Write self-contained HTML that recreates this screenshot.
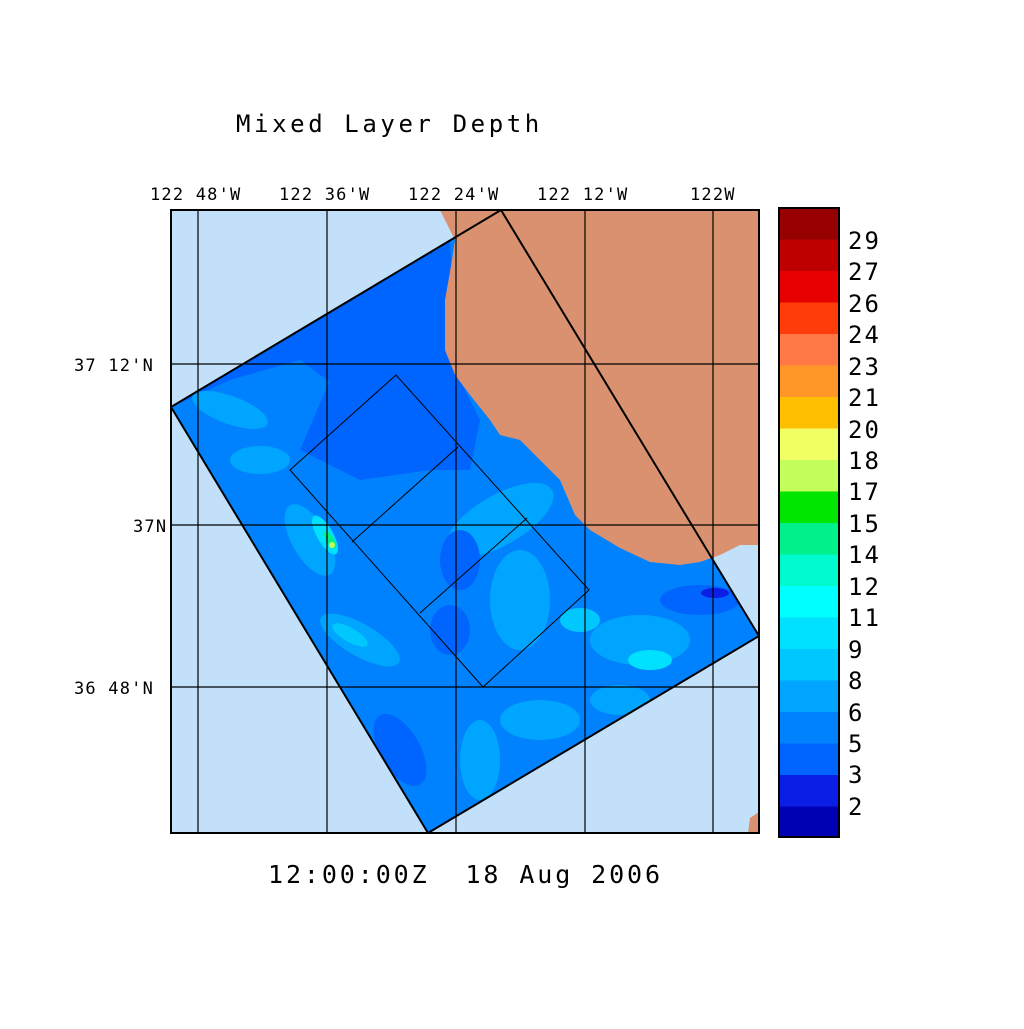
<!DOCTYPE html>
<html><head><style>
body{margin:0;background:#fff;width:1024px;height:1024px;overflow:hidden}
svg text{font-family:"DejaVu Sans Mono","Liberation Mono",monospace;fill:#000}
</style></head><body>
<svg width="1024" height="1024" viewBox="0 0 1024 1024" xmlns="http://www.w3.org/2000/svg">
<defs>
<clipPath id="dom"><polygon points="171,407 501,210 759,636 428,833"/></clipPath>
<clipPath id="map"><rect x="171" y="210" width="588" height="623"/></clipPath>
</defs>
<text x="236" y="132" font-size="24" letter-spacing="3.6" font-weight="300">Mixed Layer Depth</text>
<g clip-path="url(#map)">
<rect x="171" y="210" width="588" height="623" fill="#c2e0fa"/>
<g clip-path="url(#dom)">
<rect x="171" y="210" width="588" height="623" fill="#0082ff"/>
<polygon points="171,407 450,240 455,370 480,420 470,470 420,470 380,420 300,360 230,380" fill="#0064ff"/>
<polygon points="330,380 450,330 470,420 430,470 360,480 300,450" fill="#0064ff"/>
<ellipse cx="230" cy="410" rx="40" ry="14" fill="#00a5ff" transform="rotate(20 230 410)"/>
<ellipse cx="310" cy="540" rx="40" ry="18" fill="#00a5ff" transform="rotate(60 310 540)"/>
<ellipse cx="325" cy="535" rx="22" ry="8" fill="#00e1ff" transform="rotate(60 325 535)"/>
<ellipse cx="330" cy="540" rx="10" ry="4" fill="#00f08c" transform="rotate(60 330 540)"/>
<circle cx="332" cy="545" r="3" fill="#c3ff5a"/>
<ellipse cx="360" cy="640" rx="45" ry="16" fill="#00a5ff" transform="rotate(30 360 640)"/>
<ellipse cx="350" cy="635" rx="20" ry="7" fill="#00c8ff" transform="rotate(30 350 635)"/>
<ellipse cx="500" cy="520" rx="60" ry="25" fill="#00a5ff" transform="rotate(-30 500 520)"/>
<ellipse cx="520" cy="600" rx="30" ry="50" fill="#00a5ff"/>
<ellipse cx="460" cy="560" rx="20" ry="30" fill="#0064ff"/>
<ellipse cx="450" cy="630" rx="20" ry="25" fill="#0064ff"/>
<ellipse cx="640" cy="640" rx="50" ry="25" fill="#00a5ff"/>
<ellipse cx="650" cy="660" rx="22" ry="10" fill="#00e1ff"/>
<ellipse cx="580" cy="620" rx="20" ry="12" fill="#00c8ff"/>
<ellipse cx="700" cy="600" rx="40" ry="15" fill="#0064ff"/>
<ellipse cx="715" cy="593" rx="14" ry="5" fill="#0a1ee6"/>
<ellipse cx="480" cy="760" rx="20" ry="40" fill="#00a5ff"/>
<ellipse cx="540" cy="720" rx="40" ry="20" fill="#00a5ff"/>
<ellipse cx="620" cy="700" rx="30" ry="15" fill="#00a5ff"/>
<ellipse cx="400" cy="750" rx="20" ry="40" fill="#0064ff" transform="rotate(-30 400 750)"/>
<ellipse cx="260" cy="460" rx="30" ry="14" fill="#00a5ff"/>
</g>
<polygon points="440,210 759,210 759,545 740,545 720,555 700,562 680,565 650,562 620,548 590,530 575,515 560,480 535,455 520,440 500,435 490,420 470,395 455,375 445,350 445,300 452,260 455,240 450,230" fill="#d9916f"/>
<polygon points="750,818 759,812 759,833 748,833" fill="#d9916f"/>
<g stroke="#000" stroke-width="1.2">
<line x1="198" y1="210" x2="198" y2="833"/><line x1="327" y1="210" x2="327" y2="833"/>
<line x1="456" y1="210" x2="456" y2="833"/><line x1="585" y1="210" x2="585" y2="833"/>
<line x1="713" y1="210" x2="713" y2="833"/>
<line x1="171" y1="364" x2="759" y2="364"/><line x1="171" y1="525" x2="759" y2="525"/>
<line x1="171" y1="687" x2="759" y2="687"/>
</g>
<polygon points="171,407 501,210 759,636 428,833" fill="none" stroke="#000" stroke-width="2"/>
<g stroke="#000" stroke-width="1" fill="none">
<polygon points="290,470 396,375 589,590 483,687"/>
<line x1="458" y1="447" x2="352" y2="542"/>
<line x1="527" y1="518" x2="420" y2="613"/>
</g>
</g>
<rect x="171" y="210" width="588" height="623" fill="none" stroke="#000" stroke-width="2"/>
<g font-size="17" letter-spacing="1.2">
<text x="150" y="200">122 48'W</text><text x="279" y="200">122 36'W</text>
<text x="408" y="200">122 24'W</text><text x="537" y="200">122 12'W</text>
<text x="690" y="200">122W</text>
<text x="74" y="371">37 12'N</text><text x="133" y="532">37N</text>
<text x="74" y="694">36 48'N</text>
</g>
<text x="268" y="883" font-size="25" letter-spacing="2.9">12:00:00Z&#160;&#160;18 Aug 2006</text>
<g>
<rect x="779" y="208" width="60" height="32" fill="#960000"/>
<rect x="779" y="239.5" width="60" height="32" fill="#be0000"/>
<rect x="779" y="271" width="60" height="32" fill="#e60000"/>
<rect x="779" y="302.5" width="60" height="32" fill="#ff3c0a"/>
<rect x="779" y="334" width="60" height="32" fill="#ff7846"/>
<rect x="779" y="365.5" width="60" height="32" fill="#ff9628"/>
<rect x="779" y="397" width="60" height="32" fill="#ffbe00"/>
<rect x="779" y="428.5" width="60" height="32" fill="#f0ff64"/>
<rect x="779" y="460" width="60" height="32" fill="#c3ff5a"/>
<rect x="779" y="491.5" width="60" height="32" fill="#00e600"/>
<rect x="779" y="523" width="60" height="32" fill="#00f08c"/>
<rect x="779" y="554.5" width="60" height="32" fill="#00facd"/>
<rect x="779" y="586" width="60" height="32" fill="#00ffff"/>
<rect x="779" y="617.5" width="60" height="32" fill="#00e1ff"/>
<rect x="779" y="649" width="60" height="32" fill="#00c8ff"/>
<rect x="779" y="680.5" width="60" height="32" fill="#00a5ff"/>
<rect x="779" y="712" width="60" height="32" fill="#0082ff"/>
<rect x="779" y="743.5" width="60" height="32" fill="#0064ff"/>
<rect x="779" y="775" width="60" height="32" fill="#0a1ee6"/>
<rect x="779" y="806.5" width="60" height="31" fill="#0000b4"/>
<rect x="779" y="208" width="60" height="629" fill="none" stroke="#000" stroke-width="2"/>
</g>
<g font-size="24" font-weight="300" letter-spacing="2">
<text x="848" y="249">29</text><text x="848" y="280">27</text><text x="848" y="312">26</text>
<text x="848" y="343">24</text><text x="848" y="375">23</text><text x="848" y="406">21</text>
<text x="848" y="438">20</text><text x="848" y="469">18</text><text x="848" y="500">17</text>
<text x="848" y="532">15</text><text x="848" y="563">14</text><text x="848" y="595">12</text>
<text x="848" y="626">11</text><text x="848" y="658">9</text><text x="848" y="689">8</text>
<text x="848" y="721">6</text><text x="848" y="752">5</text><text x="848" y="783">3</text>
<text x="848" y="815">2</text>
</g>
</svg>
</body></html>
